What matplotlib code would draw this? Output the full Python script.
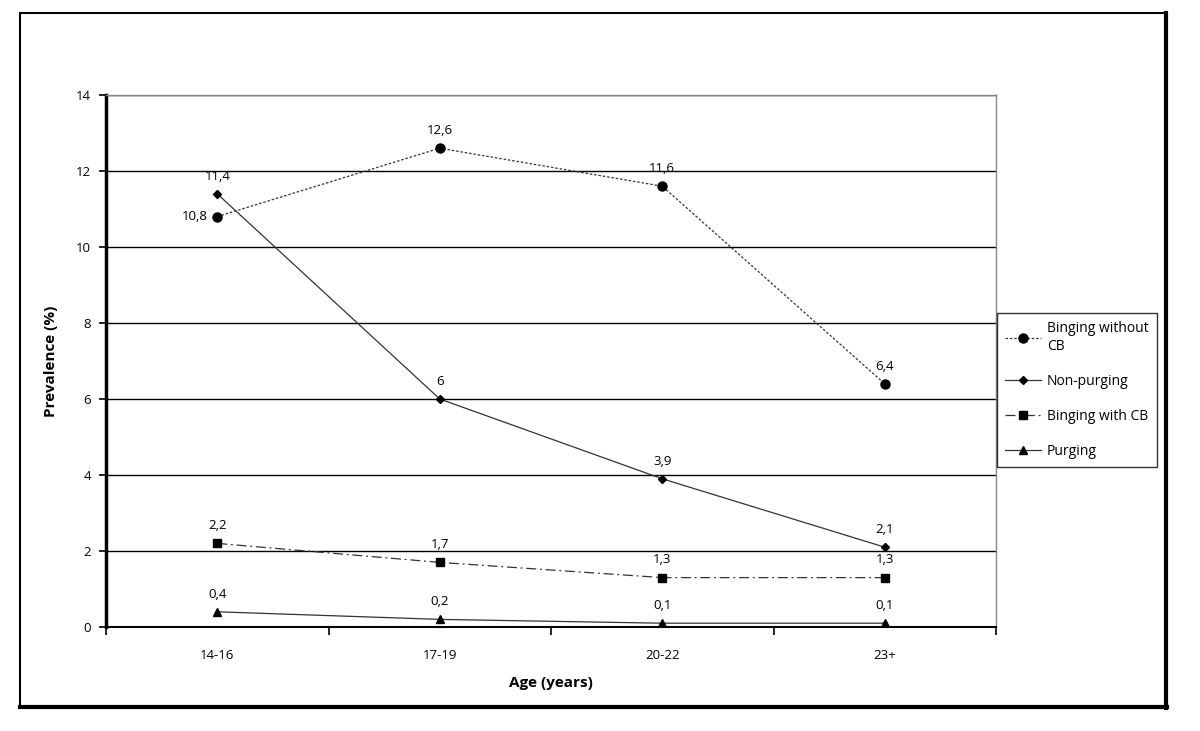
import numpy as np
from matplotlib import pyplot as plt
from matplotlib.lines import Line2D
from matplotlib.patches import Rectangle

plt.rcParams['font.family'] = ['Open Sans', 'DejaVu Sans']

ages = ["14-16", "17-19", "20-22", "23+"]
binging_no_cb = [10.8, 12.6, 11.6, 6.4]
non_purging = [11.4, 6.0, 3.9, 2.1]
binging_cb = [2.2, 1.7, 1.3, 1.3]
purging = [0.4, 0.2, 0.1, 0.1]

series = [
    ("Binging without\nCB", binging_no_cb, (0, (2, 1.5)), "o", 6.5),
    ("Non-purging", non_purging, "-", "D", 4.5),
    ("Binging with CB", binging_cb, (0, (8, 3, 1.5, 3)), "s", 6),
    ("Purging", purging, "-", "^", 6),
]

fig = plt.figure(figsize=(12, 7.31), dpi=100)
ax = fig.add_axes([106/1200, 1-627/731, 890/1200, 532/731])

x = np.arange(1, len(ages) + 1)
handles = []
for name, vals, ls, mk, ms in series:
    line, = ax.plot(x, vals, color="#333333", lw=0.9, linestyle=ls,
                    marker=mk, markersize=ms, markerfacecolor="black",
                    markeredgecolor="black", zorder=3, label=name)
    handles.append(line)
    for i, v in enumerate(vals):
        lab = ("%g" % v).replace(".", ",")
        if name.startswith("Binging without") and i == 0:
            ax.annotate(lab, (x[i], v), xytext=(-7, 0), textcoords="offset points",
                        ha="right", va="center", fontsize=9.5)
        else:
            ax.annotate(lab, (x[i], v), xytext=(0, 8), textcoords="offset points",
                        ha="center", va="bottom", fontsize=9.5)

ax.set_xlim(0.5, 4.5)
ax.set_ylim(0, 14)
ax.set_yticks(np.arange(0, 15, 2))
ax.set_xticks(np.arange(0.5, 4.6, 1))
ax.set_xticklabels([])
ax.set_xticks(x, minor=True)
ax.set_xticklabels(ages, minor=True)
ax.tick_params(axis="x", which="minor", length=0, pad=16, labelsize=9.5)
ax.tick_params(axis="x", which="major", direction="out", length=6, width=1.2)
ax.tick_params(axis="y", direction="out", length=5, width=1.2, labelsize=9.5, pad=6)
ax.yaxis.grid(True, color="black", lw=1)
ax.set_axisbelow(True)

ax.spines["left"].set_linewidth(2.5)
ax.spines["bottom"].set_linewidth(1.5)
ax.spines["top"].set_color("#888888")
ax.spines["right"].set_color("#888888")
ax.spines["top"].set_linewidth(1)
ax.spines["right"].set_linewidth(1)

ax.set_xlabel("Age (years)", fontsize=11, fontweight="bold", labelpad=10)
ax.set_ylabel("Prevalence (%)", fontsize=11, fontweight="bold", labelpad=13)

leg = fig.legend(handles=handles, loc="upper left",
                 bbox_to_anchor=(997/1200, 1-313/731), borderaxespad=0,
                 frameon=True, fancybox=False, edgecolor="black", fontsize=10,
                 labelspacing=1.45, handlelength=2.6, handletextpad=0.4,
                 borderpad=0.6)
leg.get_frame().set_linewidth(1)

# outer frame of the chart area
fig.patches.append(Rectangle((20/1200, 1-707/731), 1146/1200, 694/731,
                             transform=fig.transFigure, fill=False,
                             edgecolor="black", lw=1.5))
fig.add_artist(Line2D([1166/1200, 1166/1200], [1-708/731, 1-13/731],
                      transform=fig.transFigure, color="black", lw=3))
fig.add_artist(Line2D([20/1200, 1167/1200], [1-707/731, 1-707/731],
                      transform=fig.transFigure, color="black", lw=3))

fig.savefig("out.png", dpi=100)
